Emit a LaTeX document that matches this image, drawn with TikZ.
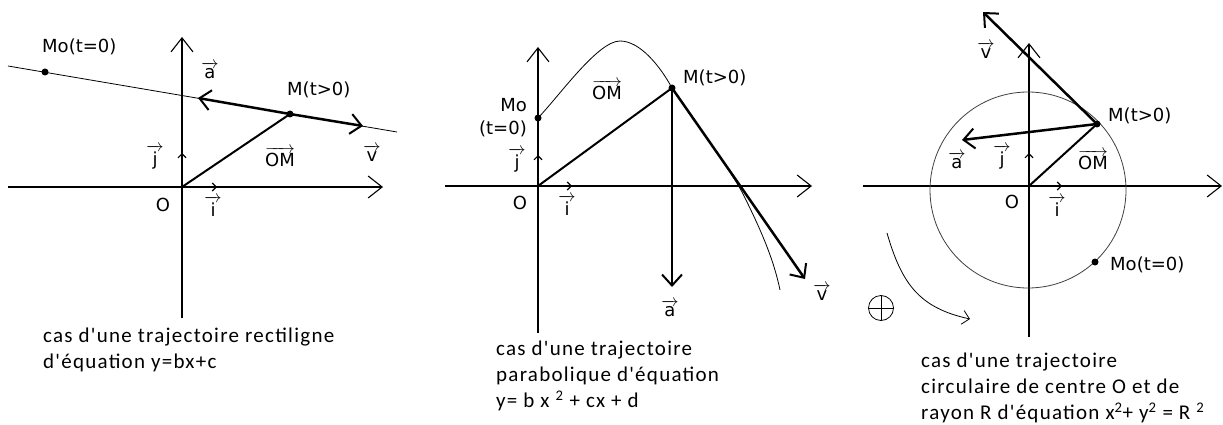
\documentclass[tikz,border=0pt]{standalone}
\usepackage{amsmath}
\usepackage{fontspec}
\setmainfont{DejaVu Sans}
\newfontfamily\capfont{Carlito}[LetterSpace=6]
\usepackage{tikz}
\usetikzlibrary{arrows.meta}

\newcommand\vect[1]{$\overrightarrow{\hbox{#1}}$}

\tikzset{
  axe/.style={line width=1.1pt,-{Straight Barb[length=14pt,width=22pt,line width=1.1pt]}},
  unite/.style={line width=1.1pt,-{Straight Barb[length=4pt,width=8pt,line width=1.1pt]}},
  vecteur/.style={line width=2.5pt,-{Straight Barb[length=11pt,width=20pt,line width=2pt]}},
  traj/.style={line width=0.8pt},
  lbl/.style={inner sep=0pt,font=\fontsize{18}{23}\selectfont},
  legende/.style={anchor=north west,align=left,inner sep=0pt,font=\capfont\fontsize{21}{26}\selectfont}
}

\begin{document}
\begin{tikzpicture}[x=1pt,y=-1pt]
	\useasboundingbox (0,0) rectangle (1223,425);
	% cas rectiligne
	\coordinate (O1) at (182,187);
	\coordinate (M1) at (290,114);
	\coordinate (Mo1) at (45,72);
	\draw[axe] (8,187) -- (383,187); % axes
	\draw[axe] (182,318) -- (182,37);
	\draw[traj] (8,66) -- (397,132); % droite
	\draw[unite] (O1) -- (217,187);
	\draw[unite] (O1) -- (182,153);
	\draw[line width=2pt] (O1) -- (M1);
	\draw[vecteur] (M1) -- (363,126);
	\draw[vecteur] (M1) -- (198,98);
	\fill (M1) circle (3.5pt);
	\fill (Mo1) circle (3.5pt);
	
	\node[lbl,anchor=west] (Mo1lbl) at (42,47) {Mo(t=0)};
	\node[lbl,anchor=west] (M1lbl) at (287,90) {M(t>0)};
	\node[lbl] (a1lbl) at (210,70) {\vect{a}};
	\node[lbl] (v1lbl) at (372,153) {\vect{v}};
	\node[lbl] (OM1lbl) at (280,157) {\vect{OM}};
	\node[lbl] (j1lbl) at (155,157) {\vect{j}};
	\node[lbl] (i1lbl) at (213,206) {\vect{i}};
	\node[lbl] (O1lbl) at (163,205) {O};
	\node[legende] (leg1) at (43,328) {cas d'une trajectoire rectiligne\\d'équation y=bx+c};
	
	% cas parabolique
	\coordinate (O2) at (538,186);
	\coordinate (M2) at (672,88);
	\coordinate (Mo2) at (538,118);
	\draw[axe] (445,186) -- (812,186);
	\draw[axe] (538,333) -- (538,47);
	\draw[traj] (Mo2) .. controls (560,95) and (598,41) .. (620,41)
	  .. controls (640,41) and (660,66) .. (M2)
	  .. controls (700,128) and (730,170) .. (742,192)
	  .. controls (758,224) and (773,256) .. (780,290); % parabole
	\draw[unite] (O2) -- (572,186);
	\draw[unite] (O2) -- (538,155);
	\draw[line width=2pt] (O2) -- (M2);
	\draw[vecteur] (M2) -- (672,287);
	\draw[vecteur] (M2) -- (805,279);
	\fill (M2) circle (3.5pt);
	\fill (Mo2) circle (3.5pt);
	
	\node[lbl,anchor=east,align=right] (Mo2lbl) at (527,118) {Mo\\(t=0)};
	\node[lbl,anchor=west] (M2lbl) at (683,78) {M(t>0)};
	\node[lbl] (OM2lbl) at (607,90) {\vect{OM}};
	\node[lbl] (a2lbl) at (670,308) {\vect{a}};
	\node[lbl] (v2lbl) at (822,292) {\vect{v}};
	\node[lbl] (j2lbl) at (517,160) {\vect{j}};
	\node[lbl] (i2lbl) at (567,205) {\vect{i}};
	\node[lbl] (O2lbl) at (520,203) {O};
	\node[legende] (leg2) at (496,341) {cas d'une trajectoire\\parabolique d'équation\\y= b x \textsuperscript{2} + cx + d};
	
	% cas circulaire
	\coordinate (O3) at (1029,186);
	\coordinate (M3) at (1097,124);
	\coordinate (Mo3) at (1095,262);
	\draw[axe] (863,186) -- (1222,186);
	\draw[axe] (1029,337) -- (1029,43);
	\draw[traj,black!75] (1028,190) circle (98pt); % cercle
	\draw[unite] (O3) -- (1062,186);
	\draw[unite] (O3) -- (1029,153);
	\draw[line width=2pt] (O3) -- (M3);
	\draw[vecteur] (M3) -- (983,12);
	\draw[vecteur] (M3) -- (962,140);
	\fill (M3) circle (3.5pt);
	\fill (Mo3) circle (3.5pt);
	\draw[traj,-{Straight Barb[length=7pt,width=14pt]}] (887,233) .. controls (902,285) and (920,308) .. (970,319); % sens
	\node[draw,circle,inner sep=0pt,minimum size=25pt,line width=0.8pt] (sens) at (881,308) {};
	\draw[line width=0.8pt] (sens.west) -- (sens.east);
	\draw[line width=0.8pt] (sens.north) -- (sens.south);
	
	\node[lbl,anchor=west] (M3lbl) at (1108,116) {M(t>0)};
	\node[lbl,anchor=west] (Mo3lbl) at (1110,265) {Mo(t=0)};
	\node[lbl] (OM3lbl) at (1093,160) {\vect{OM}};
	\node[lbl] (v3lbl) at (986,50) {\vect{v}};
	\node[lbl] (a3lbl) at (957,160) {\vect{a}};
	\node[lbl] (j3lbl) at (1002,157) {\vect{j}};
	\node[lbl] (i3lbl) at (1057,206) {\vect{i}};
	\node[lbl] (O3lbl) at (1012,202) {O};
	\node[legende] (leg3) at (921,353) {cas d'une trajectoire\\circulaire de centre O et de\\rayon R d'équation x\textsuperscript{2}+ y\textsuperscript{2} = R \textsuperscript{2}};
\end{tikzpicture}
\end{document}
